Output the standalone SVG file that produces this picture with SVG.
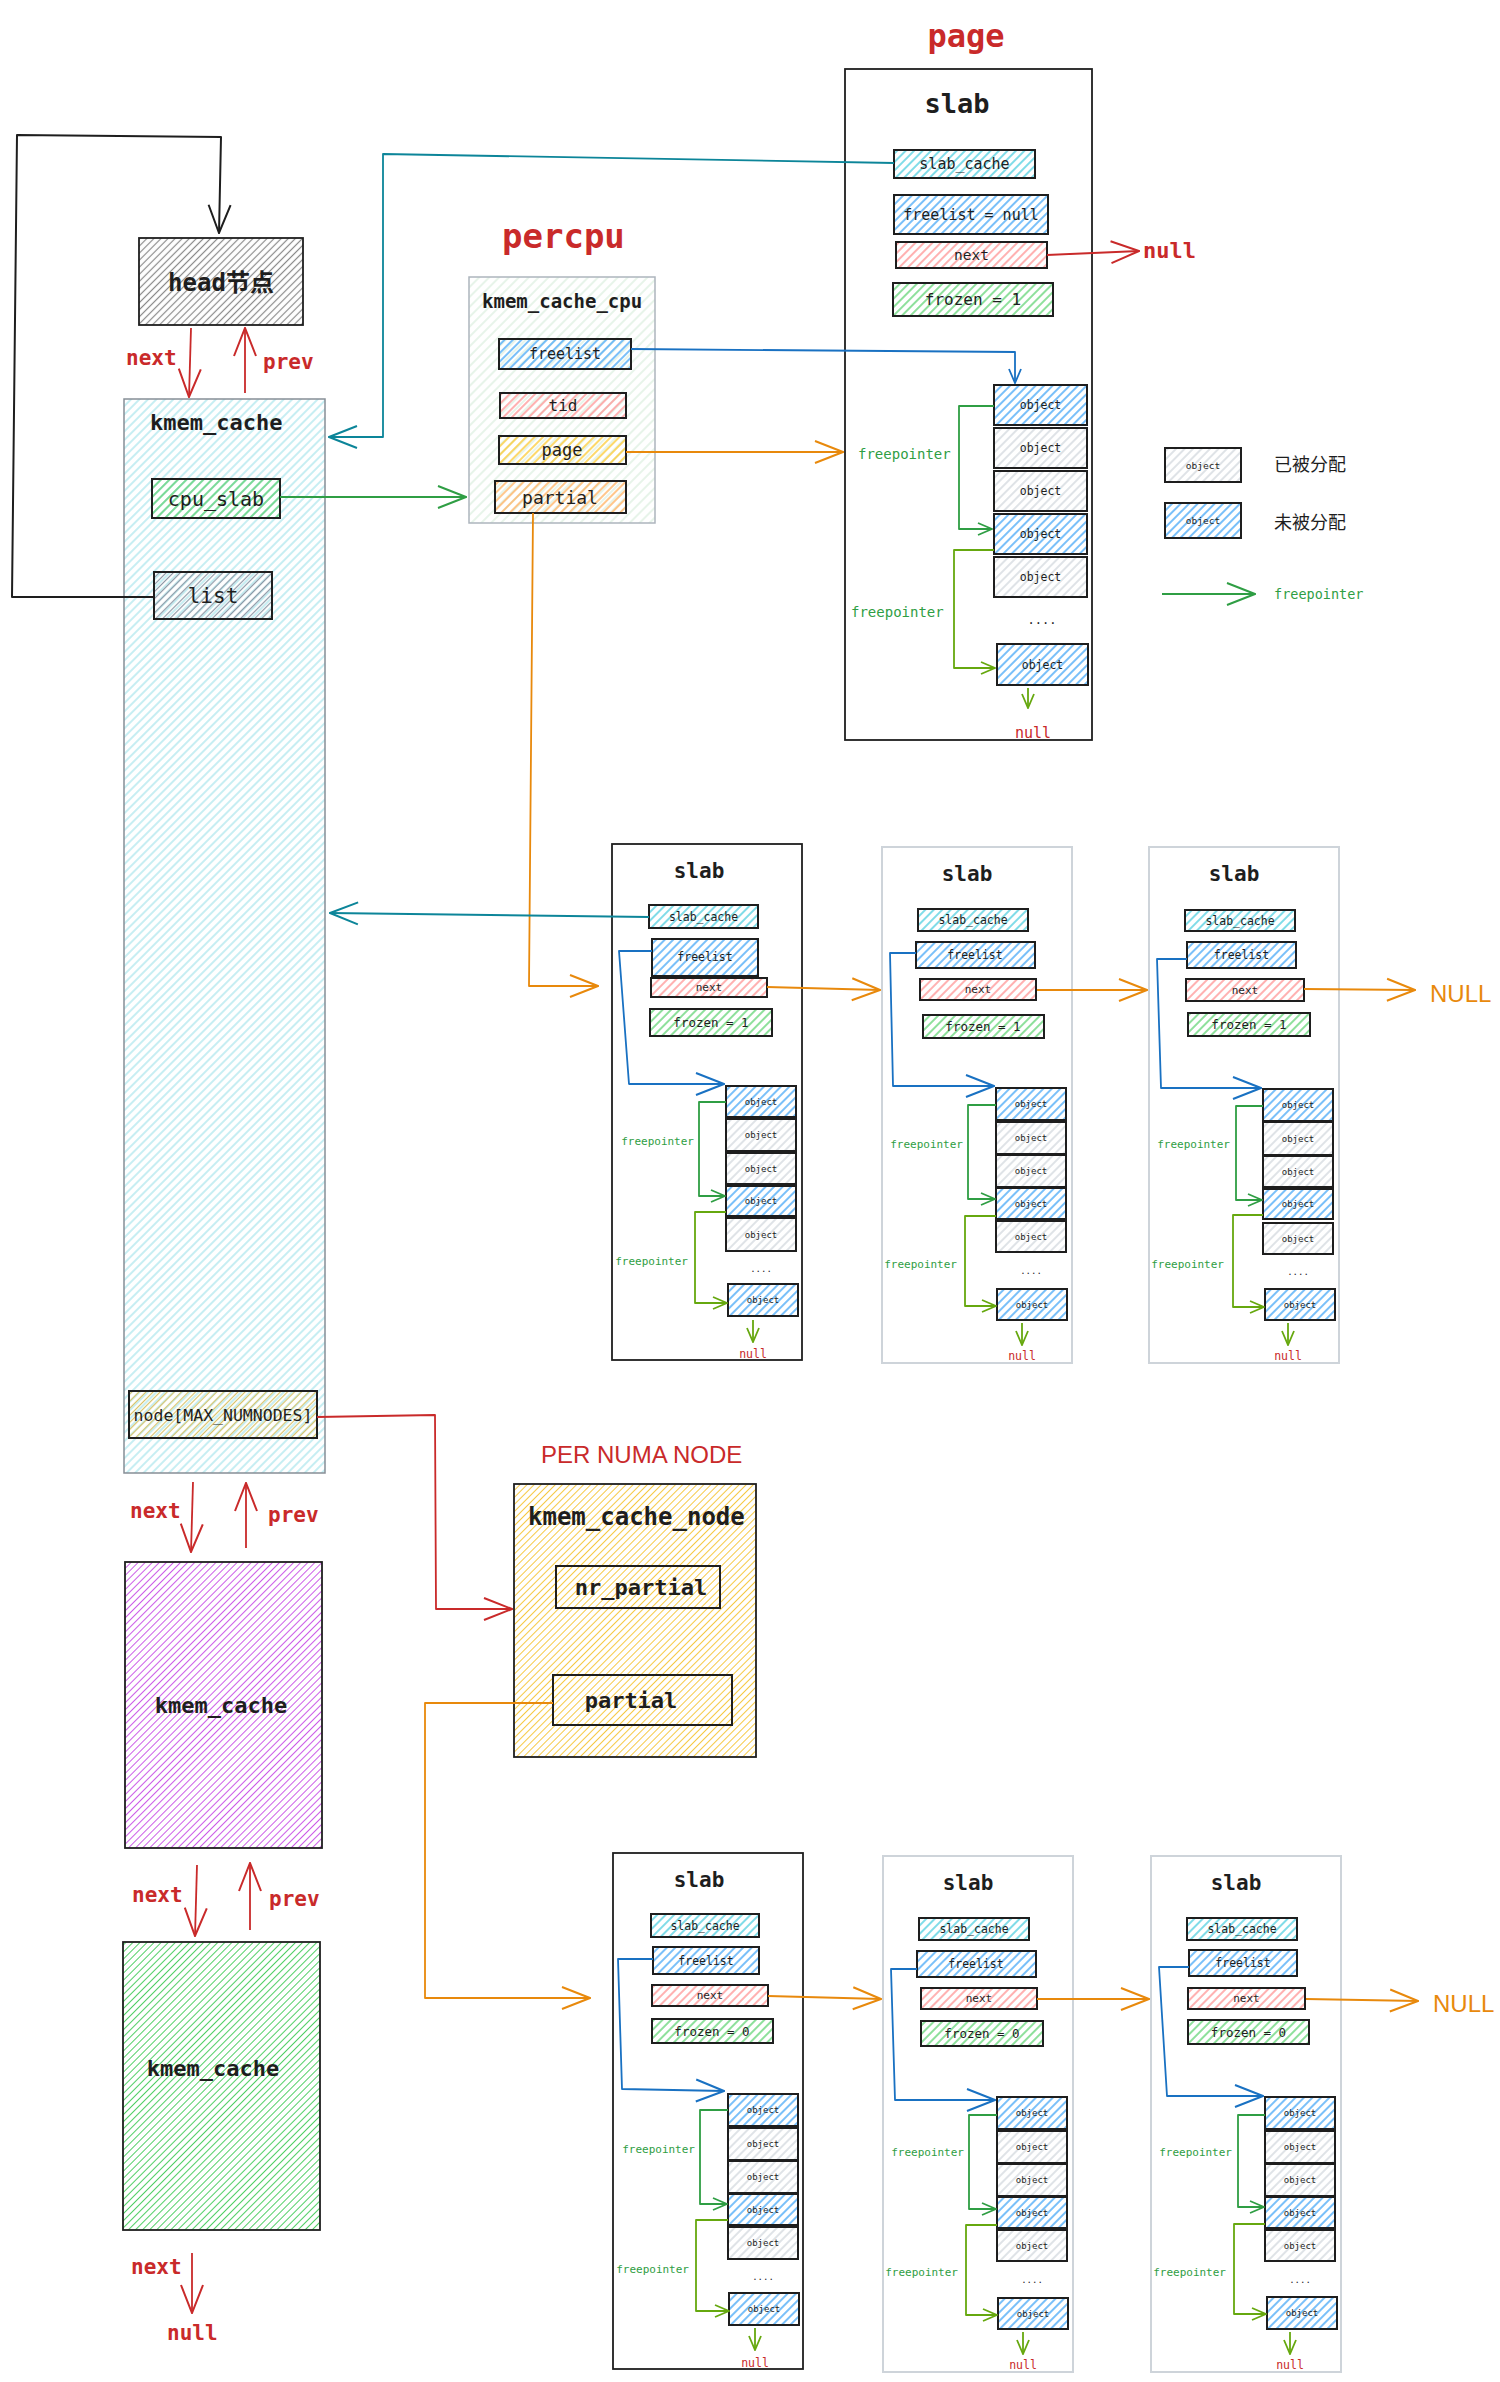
<svg xmlns="http://www.w3.org/2000/svg" width="1500" height="2382" viewBox="0 0 1500 2382">
<defs>
<style>
.mono{font-family:"DejaVu Sans Mono","Liberation Mono","Noto Sans CJK SC",monospace;fill:#1e1e1e}
.sans{font-family:"Liberation Sans","Noto Sans",sans-serif}
.cjk{font-family:"Noto Sans CJK SC",sans-serif;fill:#1e1e1e}
.b{font-weight:bold}
.c{text-anchor:middle;dominant-baseline:central}
.red{fill:#c92a2a}
.org{fill:#e8890c}
.grn{fill:#2f9e44}
.fld{stroke:#1e1e1e;stroke-width:2}
.obj{stroke:#1e1e1e;stroke-width:2}
.blk{stroke:#1e1e1e;stroke-width:1.8}
.slabB{fill:none;stroke:#1e1e1e;stroke-width:1.8}
.slabG{fill:none;stroke:#ced4da;stroke-width:2}
.ln{fill:none;stroke-linejoin:round}
.l-red{stroke:#c92a2a;stroke-width:1.8}
.l-blk{stroke:#1e1e1e;stroke-width:2}
.l-teal{stroke:#0c8599;stroke-width:1.8}
.l-grn{stroke:#2f9e44;stroke-width:1.8}
.l-lg{stroke:#66a80f;stroke-width:1.8}
.l-org{stroke:#e8890c;stroke-width:1.8}
.l-blu{stroke:#1971c2;stroke-width:1.8}
.ft{font-size:11px}
.ob{font-size:9px}
</style>
<pattern id="p-cyan" width="6" height="6" patternUnits="userSpaceOnUse" patternTransform="rotate(45)"><line x1="3" y1="0" x2="3" y2="6" stroke="#8fdde6" stroke-width="1"/></pattern>
<pattern id="p-lgreen" width="7" height="7" patternUnits="userSpaceOnUse" patternTransform="rotate(45)"><line x1="3" y1="0" x2="3" y2="7" stroke="#cfe9d4" stroke-width="1"/></pattern>
<pattern id="p-dgray" width="5" height="5" patternUnits="userSpaceOnUse" patternTransform="rotate(45)"><line x1="2.5" y1="0" x2="2.5" y2="5" stroke="#8a8a8a" stroke-width="1.2"/></pattern>
<pattern id="p-gray" width="6" height="6" patternUnits="userSpaceOnUse" patternTransform="rotate(45)"><line x1="3" y1="0" x2="3" y2="6" stroke="#ced4da" stroke-width="1.3"/></pattern>
<pattern id="p-list" width="5" height="5" patternUnits="userSpaceOnUse" patternTransform="rotate(45)"><line x1="2.5" y1="0" x2="2.5" y2="5" stroke="#8d99a6" stroke-width="1.2"/></pattern>
<pattern id="p-blue" width="6" height="6" patternUnits="userSpaceOnUse" patternTransform="rotate(45)"><line x1="3" y1="0" x2="3" y2="6" stroke="#4dabf7" stroke-width="1.5"/></pattern>
<pattern id="p-red" width="6" height="6" patternUnits="userSpaceOnUse" patternTransform="rotate(45)"><line x1="3" y1="0" x2="3" y2="6" stroke="#ff8787" stroke-width="1.3"/></pattern>
<pattern id="p-green" width="6" height="6" patternUnits="userSpaceOnUse" patternTransform="rotate(45)"><line x1="3" y1="0" x2="3" y2="6" stroke="#51cf66" stroke-width="1.3"/></pattern>
<pattern id="p-teal" width="6" height="6" patternUnits="userSpaceOnUse" patternTransform="rotate(45)"><line x1="3" y1="0" x2="3" y2="6" stroke="#3bc9db" stroke-width="1.3"/></pattern>
<pattern id="p-yellow" width="6" height="6" patternUnits="userSpaceOnUse" patternTransform="rotate(45)"><line x1="3" y1="0" x2="3" y2="6" stroke="#fcc419" stroke-width="1.3"/></pattern>
<pattern id="p-orange" width="6" height="6" patternUnits="userSpaceOnUse" patternTransform="rotate(45)"><line x1="3" y1="0" x2="3" y2="6" stroke="#ffa94d" stroke-width="1.3"/></pattern>
<pattern id="p-purple" width="5" height="5" patternUnits="userSpaceOnUse" patternTransform="rotate(45)"><line x1="2.5" y1="0" x2="2.5" y2="5" stroke="#cc5de8" stroke-width="1"/></pattern>
<pattern id="p-gbox" width="5" height="5" patternUnits="userSpaceOnUse" patternTransform="rotate(45)"><line x1="2.5" y1="0" x2="2.5" y2="5" stroke="#51cf66" stroke-width="1"/></pattern>
<pattern id="p-node" width="5" height="5" patternUnits="userSpaceOnUse" patternTransform="rotate(45)"><line x1="2.5" y1="0" x2="2.5" y2="5" stroke="#f6c945" stroke-width="1"/></pattern>
<pattern id="p-nmax" width="5" height="5" patternUnits="userSpaceOnUse" patternTransform="rotate(45)"><line x1="2.5" y1="0" x2="2.5" y2="5" stroke="#d8c36a" stroke-width="1.2"/></pattern>
<marker id="L-blk" viewBox="0 0 30 26" refX="29" refY="13" markerWidth="30" markerHeight="26" markerUnits="userSpaceOnUse" orient="auto"><path d="M1,2 L29,13 L1,24" fill="none" stroke="#1e1e1e" stroke-width="2"/></marker>
<marker id="L-red" viewBox="0 0 30 26" refX="29" refY="13" markerWidth="30" markerHeight="26" markerUnits="userSpaceOnUse" orient="auto"><path d="M1,2 L29,13 L1,24" fill="none" stroke="#c92a2a" stroke-width="2"/></marker>
<marker id="L-teal" viewBox="0 0 30 26" refX="29" refY="13" markerWidth="30" markerHeight="26" markerUnits="userSpaceOnUse" orient="auto"><path d="M1,2 L29,13 L1,24" fill="none" stroke="#0c8599" stroke-width="2"/></marker>
<marker id="L-grn" viewBox="0 0 30 26" refX="29" refY="13" markerWidth="30" markerHeight="26" markerUnits="userSpaceOnUse" orient="auto"><path d="M1,2 L29,13 L1,24" fill="none" stroke="#2f9e44" stroke-width="2"/></marker>
<marker id="L-org" viewBox="0 0 30 26" refX="29" refY="13" markerWidth="30" markerHeight="26" markerUnits="userSpaceOnUse" orient="auto"><path d="M1,2 L29,13 L1,24" fill="none" stroke="#e8890c" stroke-width="2"/></marker>
<marker id="L-blu" viewBox="0 0 30 26" refX="29" refY="13" markerWidth="30" markerHeight="26" markerUnits="userSpaceOnUse" orient="auto"><path d="M1,2 L29,13 L1,24" fill="none" stroke="#1971c2" stroke-width="2"/></marker>
<marker id="S-grn" viewBox="0 0 16 14" refX="15" refY="7" markerWidth="16" markerHeight="14" markerUnits="userSpaceOnUse" orient="auto"><path d="M1,1 L15,7 L1,13" fill="none" stroke="#2f9e44" stroke-width="1.8"/></marker>
<marker id="S-lg" viewBox="0 0 16 14" refX="15" refY="7" markerWidth="16" markerHeight="14" markerUnits="userSpaceOnUse" orient="auto"><path d="M1,1 L15,7 L1,13" fill="none" stroke="#66a80f" stroke-width="1.8"/></marker>
<marker id="S-blu" viewBox="0 0 16 14" refX="15" refY="7" markerWidth="16" markerHeight="14" markerUnits="userSpaceOnUse" orient="auto"><path d="M1,1 L15,7 L1,13" fill="none" stroke="#1971c2" stroke-width="1.8"/></marker>
</defs>
<rect width="1500" height="2382" fill="#ffffff"/>

<!-- titles -->
<text class="mono red b" x="966" y="47" font-size="32" text-anchor="middle">page</text>
<text class="mono red b" x="502" y="248" font-size="34">percpu</text>
<text class="sans red" x="541" y="1463" font-size="24">PER NUMA NODE</text>

<!-- head node -->
<g id="head">
<rect x="139" y="238" width="164" height="87" fill="url(#p-dgray)" class="blk"/>
<text class="mono c b" x="221" y="283" font-size="24">head节点</text>
</g>

<!-- main kmem_cache -->
<g id="kmem_cache_main">
<rect x="124" y="399" width="201" height="1074" fill="url(#p-cyan)" stroke="#868e96" stroke-width="1.5"/>
<text class="mono b" x="150" y="430" font-size="22">kmem_cache</text>
<rect x="152" y="479" width="128" height="39" fill="url(#p-green)" class="fld"/>
<text class="mono c" x="216" y="498.5" font-size="20">cpu_slab</text>
<rect x="154" y="572" width="118" height="47" fill="url(#p-list)" class="fld"/>
<text class="mono c" x="213" y="595.5" font-size="21">list</text>
<rect x="129" y="1391" width="188" height="47" fill="url(#p-nmax)" class="fld"/>
<text class="mono c" x="223" y="1415" font-size="16.5">node[MAX_NUMNODES]</text>
</g>

<!-- kmem_cache purple -->
<g id="kmem_cache_2">
<rect x="125" y="1562" width="197" height="286" fill="url(#p-purple)" class="blk"/>
<text class="mono c b" x="221" y="1705" font-size="22">kmem_cache</text>
</g>

<!-- kmem_cache green -->
<g id="kmem_cache_3">
<rect x="123" y="1942" width="197" height="288" fill="url(#p-gbox)" class="blk"/>
<text class="mono c b" x="213" y="2068" font-size="22">kmem_cache</text>
</g>

<!-- kmem_cache_cpu -->
<g id="kmem_cache_cpu">
<rect x="469" y="277" width="186" height="246" fill="url(#p-lgreen)" stroke="#adb5bd" stroke-width="1.5"/>
<text class="mono b" x="482" y="308" font-size="19">kmem_cache_cpu</text>
<rect x="499" y="339" width="132" height="30" fill="url(#p-blue)" class="fld"/>
<text class="mono c" x="565" y="354" font-size="15">freelist</text>
<rect x="500" y="393" width="126" height="25" fill="url(#p-red)" class="fld"/>
<text class="mono c" x="563" y="405.5" font-size="16">tid</text>
<rect x="499" y="436" width="127" height="28" fill="url(#p-yellow)" class="fld"/>
<text class="mono c" x="562" y="450" font-size="17">page</text>
<rect x="495" y="481" width="131" height="32" fill="url(#p-orange)" class="fld"/>
<text class="mono c" x="560" y="497" font-size="18">partial</text>
</g>

<!-- page slab -->
<g id="slab_page">
<rect x="845" y="69" width="247" height="671" class="slabB"/>
<text class="mono b" x="957" y="113" font-size="27" text-anchor="middle">slab</text>
<rect x="894" y="150" width="141" height="28" fill="url(#p-teal)" class="fld"/>
<text class="mono c" x="964.5" y="164" font-size="15">slab_cache</text>
<rect x="894" y="195" width="154" height="39" fill="url(#p-blue)" class="fld"/>
<text class="mono c" x="971" y="214.5" font-size="15">freelist = null</text>
<rect x="896" y="242" width="151" height="26" fill="url(#p-red)" class="fld"/>
<text class="mono c" x="971.5" y="255" font-size="14.5">next</text>
<rect x="893" y="283" width="160" height="33" fill="url(#p-green)" class="fld"/>
<text class="mono c" x="973" y="299.5" font-size="16">frozen = 1</text>
<rect x="994" y="385" width="93" height="40" fill="url(#p-blue)" class="obj"/>
<text class="mono c" x="1040.5" y="405" font-size="11.5">object</text>
<rect x="994" y="428" width="93" height="40" fill="url(#p-gray)" class="obj"/>
<text class="mono c" x="1040.5" y="448" font-size="11.5">object</text>
<rect x="994" y="471" width="93" height="40" fill="url(#p-gray)" class="obj"/>
<text class="mono c" x="1040.5" y="491" font-size="11.5">object</text>
<rect x="994" y="514" width="93" height="40" fill="url(#p-blue)" class="obj"/>
<text class="mono c" x="1040.5" y="534" font-size="11.5">object</text>
<rect x="994" y="557" width="93" height="40" fill="url(#p-gray)" class="obj"/>
<text class="mono c" x="1040.5" y="577" font-size="11.5">object</text>
<text class="mono c" x="1042" y="620" font-size="12">....</text>
<rect x="997" y="644" width="91" height="41" fill="url(#p-blue)" class="obj"/>
<text class="mono c" x="1042.5" y="664.5" font-size="11.5">object</text>
<text class="mono grn" x="858" y="459" font-size="14">freepointer</text>
<text class="mono grn" x="851" y="617" font-size="14">freepointer</text>
<text class="mono red" x="1033" y="738" font-size="15" text-anchor="middle">null</text>
</g>

<!-- legend -->
<g id="legend">
<rect x="1165" y="448" width="76" height="34" fill="url(#p-gray)" class="obj"/>
<text class="mono c" x="1203" y="465" font-size="9.5">object</text>
<text class="cjk" x="1274" y="463" font-size="18" dominant-baseline="central">已被分配</text>
<rect x="1165" y="503" width="76" height="35" fill="url(#p-blue)" class="obj"/>
<text class="mono c" x="1203" y="520.5" font-size="9.5">object</text>
<text class="cjk" x="1274" y="521" font-size="18" dominant-baseline="central">未被分配</text>
<text class="mono grn" x="1274" y="594" font-size="13.5" dominant-baseline="central">freepointer</text>
</g>

<!-- kmem_cache_node -->
<g id="kmem_cache_node">
<rect x="514" y="1484" width="242" height="273" fill="url(#p-node)" class="blk"/>
<text class="mono b" x="528" y="1525" font-size="24">kmem_cache_node</text>
<rect x="556" y="1566" width="164" height="42" fill="none" class="fld"/>
<text class="mono c b" x="641" y="1587" font-size="22">nr_partial</text>
<rect x="553" y="1675" width="179" height="50" fill="none" class="fld"/>
<text class="mono c b" x="631" y="1700" font-size="22">partial</text>
</g>

<!-- middle row slabs -->
<g id="slab_m1" transform="translate(612,844)">
<rect x="0" y="0" width="190" height="516" class="slabB"/>
<text class="mono b" x="87" y="34" font-size="21" text-anchor="middle">slab</text>
<rect x="37" y="61" width="109" height="23" fill="url(#p-teal)" class="fld"/><text class="mono c" x="91.5" y="73" font-size="11.5">slab_cache</text>
<rect x="40" y="95" width="106" height="37" fill="url(#p-blue)" class="fld"/><text class="mono c" x="93" y="113" font-size="11.5">freelist</text>
<rect x="39" y="134" width="116" height="19" fill="url(#p-red)" class="fld"/><text class="mono c" x="97" y="143.5" font-size="11">next</text>
<rect x="38" y="165" width="122" height="27" fill="url(#p-green)" class="fld"/><text class="mono c" x="99" y="178.5" font-size="12.5">frozen = 1</text>
<rect x="114" y="242" width="70" height="31" fill="url(#p-blue)" class="obj"/><text class="mono c ob" x="149" y="257.5">object</text>
<rect x="114" y="275" width="70" height="32" fill="url(#p-gray)" class="obj"/><text class="mono c ob" x="149" y="291">object</text>
<rect x="114" y="309" width="70" height="31" fill="url(#p-gray)" class="obj"/><text class="mono c ob" x="149" y="324.5">object</text>
<rect x="114" y="342" width="70" height="30" fill="url(#p-blue)" class="obj"/><text class="mono c ob" x="149" y="357">object</text>
<rect x="114" y="374" width="70" height="33" fill="url(#p-gray)" class="obj"/><text class="mono c ob" x="149" y="390.5">object</text>
<text class="mono c ob" x="149" y="425">....</text>
<rect x="116" y="440" width="70" height="32" fill="url(#p-blue)" class="obj"/><text class="mono c ob" x="151" y="456">object</text>
<text class="mono grn ft" x="82" y="301" text-anchor="end">freepointer</text>
<text class="mono grn ft" x="76" y="421" text-anchor="end">freepointer</text>
<text class="mono red" x="141" y="514" font-size="11.5" text-anchor="middle">null</text>
</g>
<g id="slab_m2" transform="translate(882,847)">
<rect x="0" y="0" width="190" height="516" class="slabG"/>
<text class="mono b" x="85" y="34" font-size="21" text-anchor="middle">slab</text>
<rect x="36" y="62" width="110" height="22" fill="url(#p-teal)" class="fld"/><text class="mono c" x="91" y="73" font-size="11.5">slab_cache</text>
<rect x="34" y="95" width="119" height="26" fill="url(#p-blue)" class="fld"/><text class="mono c" x="93" y="108" font-size="11.5">freelist</text>
<rect x="38" y="132" width="116" height="21" fill="url(#p-red)" class="fld"/><text class="mono c" x="96" y="142.5" font-size="11">next</text>
<rect x="41" y="168" width="121" height="23" fill="url(#p-green)" class="fld"/><text class="mono c" x="101" y="179.5" font-size="12.5">frozen = 1</text>
<rect x="114" y="241" width="70" height="32" fill="url(#p-blue)" class="obj"/><text class="mono c ob" x="149" y="257">object</text>
<rect x="114" y="275" width="70" height="32" fill="url(#p-gray)" class="obj"/><text class="mono c ob" x="149" y="291">object</text>
<rect x="114" y="308" width="70" height="32" fill="url(#p-gray)" class="obj"/><text class="mono c ob" x="149" y="324">object</text>
<rect x="114" y="341" width="70" height="31" fill="url(#p-blue)" class="obj"/><text class="mono c ob" x="149" y="356.5">object</text>
<rect x="114" y="374" width="70" height="31" fill="url(#p-gray)" class="obj"/><text class="mono c ob" x="149" y="389.5">object</text>
<text class="mono c ob" x="149" y="424">....</text>
<rect x="115" y="442" width="70" height="31" fill="url(#p-blue)" class="obj"/><text class="mono c ob" x="150" y="457.5">object</text>
<text class="mono grn ft" x="81" y="301" text-anchor="end">freepointer</text>
<text class="mono grn ft" x="75" y="421" text-anchor="end">freepointer</text>
<text class="mono red" x="140" y="513" font-size="11.5" text-anchor="middle">null</text>
</g>
<g id="slab_m3" transform="translate(1149,847)">
<rect x="0" y="0" width="190" height="516" class="slabG"/>
<text class="mono b" x="85" y="34" font-size="21" text-anchor="middle">slab</text>
<rect x="36" y="63" width="110" height="21" fill="url(#p-teal)" class="fld"/><text class="mono c" x="91" y="73.5" font-size="11.5">slab_cache</text>
<rect x="38" y="95" width="109" height="26" fill="url(#p-blue)" class="fld"/><text class="mono c" x="92.5" y="108" font-size="11.5">freelist</text>
<rect x="37" y="132" width="118" height="22" fill="url(#p-red)" class="fld"/><text class="mono c" x="96" y="143" font-size="11">next</text>
<rect x="39" y="166" width="122" height="23" fill="url(#p-green)" class="fld"/><text class="mono c" x="100" y="177.5" font-size="12.5">frozen = 1</text>
<rect x="114" y="242" width="70" height="32" fill="url(#p-blue)" class="obj"/><text class="mono c ob" x="149" y="258">object</text>
<rect x="114" y="275" width="70" height="33" fill="url(#p-gray)" class="obj"/><text class="mono c ob" x="149" y="291.5">object</text>
<rect x="114" y="309" width="70" height="31" fill="url(#p-gray)" class="obj"/><text class="mono c ob" x="149" y="324.5">object</text>
<rect x="114" y="342" width="70" height="30" fill="url(#p-blue)" class="obj"/><text class="mono c ob" x="149" y="357">object</text>
<rect x="114" y="376" width="70" height="31" fill="url(#p-gray)" class="obj"/><text class="mono c ob" x="149" y="391.5">object</text>
<text class="mono c ob" x="149" y="425">....</text>
<rect x="116" y="442" width="70" height="31" fill="url(#p-blue)" class="obj"/><text class="mono c ob" x="151" y="457.5">object</text>
<text class="mono grn ft" x="81" y="301" text-anchor="end">freepointer</text>
<text class="mono grn ft" x="75" y="421" text-anchor="end">freepointer</text>
<text class="mono red" x="139" y="513" font-size="11.5" text-anchor="middle">null</text>
</g>

<!-- bottom row slabs -->
<g id="slab_b1" transform="translate(613,1853)">
<rect x="0" y="0" width="190" height="516" class="slabB"/>
<text class="mono b" x="86" y="34" font-size="21" text-anchor="middle">slab</text>
<rect x="38" y="61" width="108" height="23" fill="url(#p-teal)" class="fld"/><text class="mono c" x="92" y="73" font-size="11.5">slab_cache</text>
<rect x="40" y="94" width="106" height="27" fill="url(#p-blue)" class="fld"/><text class="mono c" x="93" y="108" font-size="11.5">freelist</text>
<rect x="39" y="132" width="116" height="21" fill="url(#p-red)" class="fld"/><text class="mono c" x="97" y="142.5" font-size="11">next</text>
<rect x="39" y="166" width="121" height="24" fill="url(#p-green)" class="fld"/><text class="mono c" x="99" y="178" font-size="12.5">frozen = 0</text>
<rect x="115" y="241" width="70" height="32" fill="url(#p-blue)" class="obj"/><text class="mono c ob" x="150" y="257">object</text>
<rect x="115" y="275" width="70" height="32" fill="url(#p-gray)" class="obj"/><text class="mono c ob" x="150" y="291">object</text>
<rect x="115" y="308" width="70" height="32" fill="url(#p-gray)" class="obj"/><text class="mono c ob" x="150" y="324">object</text>
<rect x="115" y="341" width="70" height="31" fill="url(#p-blue)" class="obj"/><text class="mono c ob" x="150" y="356.5">object</text>
<rect x="115" y="374" width="70" height="32" fill="url(#p-gray)" class="obj"/><text class="mono c ob" x="150" y="390">object</text>
<text class="mono c ob" x="150" y="424">....</text>
<rect x="116" y="440" width="70" height="32" fill="url(#p-blue)" class="obj"/><text class="mono c ob" x="151" y="456">object</text>
<text class="mono grn ft" x="82" y="300" text-anchor="end">freepointer</text>
<text class="mono grn ft" x="76" y="420" text-anchor="end">freepointer</text>
<text class="mono red" x="142" y="514" font-size="11.5" text-anchor="middle">null</text>
</g>
<g id="slab_b2" transform="translate(883,1856)">
<rect x="0" y="0" width="190" height="516" class="slabG"/>
<text class="mono b" x="85" y="34" font-size="21" text-anchor="middle">slab</text>
<rect x="36" y="62" width="110" height="22" fill="url(#p-teal)" class="fld"/><text class="mono c" x="91" y="73" font-size="11.5">slab_cache</text>
<rect x="34" y="95" width="119" height="26" fill="url(#p-blue)" class="fld"/><text class="mono c" x="93" y="108" font-size="11.5">freelist</text>
<rect x="38" y="132" width="116" height="21" fill="url(#p-red)" class="fld"/><text class="mono c" x="96" y="142.5" font-size="11">next</text>
<rect x="38" y="165" width="122" height="25" fill="url(#p-green)" class="fld"/><text class="mono c" x="99" y="177.5" font-size="12.5">frozen = 0</text>
<rect x="114" y="241" width="70" height="32" fill="url(#p-blue)" class="obj"/><text class="mono c ob" x="149" y="257">object</text>
<rect x="114" y="275" width="70" height="32" fill="url(#p-gray)" class="obj"/><text class="mono c ob" x="149" y="291">object</text>
<rect x="114" y="308" width="70" height="32" fill="url(#p-gray)" class="obj"/><text class="mono c ob" x="149" y="324">object</text>
<rect x="114" y="341" width="70" height="31" fill="url(#p-blue)" class="obj"/><text class="mono c ob" x="149" y="356.5">object</text>
<rect x="114" y="374" width="70" height="31" fill="url(#p-gray)" class="obj"/><text class="mono c ob" x="149" y="389.5">object</text>
<text class="mono c ob" x="149" y="424">....</text>
<rect x="115" y="442" width="70" height="31" fill="url(#p-blue)" class="obj"/><text class="mono c ob" x="150" y="457.5">object</text>
<text class="mono grn ft" x="81" y="300" text-anchor="end">freepointer</text>
<text class="mono grn ft" x="75" y="420" text-anchor="end">freepointer</text>
<text class="mono red" x="140" y="513" font-size="11.5" text-anchor="middle">null</text>
</g>
<g id="slab_b3" transform="translate(1151,1856)">
<rect x="0" y="0" width="190" height="516" class="slabG"/>
<text class="mono b" x="85" y="34" font-size="21" text-anchor="middle">slab</text>
<rect x="36" y="62" width="110" height="22" fill="url(#p-teal)" class="fld"/><text class="mono c" x="91" y="73" font-size="11.5">slab_cache</text>
<rect x="38" y="94" width="108" height="26" fill="url(#p-blue)" class="fld"/><text class="mono c" x="92" y="107" font-size="11.5">freelist</text>
<rect x="37" y="132" width="117" height="21" fill="url(#p-red)" class="fld"/><text class="mono c" x="95.5" y="142.5" font-size="11">next</text>
<rect x="37" y="164" width="121" height="24" fill="url(#p-green)" class="fld"/><text class="mono c" x="97.5" y="176" font-size="12.5">frozen = 0</text>
<rect x="114" y="241" width="70" height="32" fill="url(#p-blue)" class="obj"/><text class="mono c ob" x="149" y="257">object</text>
<rect x="114" y="275" width="70" height="32" fill="url(#p-gray)" class="obj"/><text class="mono c ob" x="149" y="291">object</text>
<rect x="114" y="308" width="70" height="32" fill="url(#p-gray)" class="obj"/><text class="mono c ob" x="149" y="324">object</text>
<rect x="114" y="341" width="70" height="31" fill="url(#p-blue)" class="obj"/><text class="mono c ob" x="149" y="356.5">object</text>
<rect x="114" y="374" width="70" height="31" fill="url(#p-gray)" class="obj"/><text class="mono c ob" x="149" y="389.5">object</text>
<text class="mono c ob" x="149" y="424">....</text>
<rect x="116" y="441" width="70" height="32" fill="url(#p-blue)" class="obj"/><text class="mono c ob" x="151" y="457">object</text>
<text class="mono grn ft" x="81" y="300" text-anchor="end">freepointer</text>
<text class="mono grn ft" x="75" y="420" text-anchor="end">freepointer</text>
<text class="mono red" x="139" y="513" font-size="11.5" text-anchor="middle">null</text>
</g>

<!-- NULL labels and link labels -->
<g id="labels">
<text class="sans org" x="1430" y="1002" font-size="24">NULL</text>
<text class="sans org" x="1433" y="2012" font-size="24">NULL</text>
<text class="mono red b" x="1143" y="258" font-size="22">null</text>
<text class="mono red b" x="126" y="365" font-size="21">next</text>
<text class="mono red b" x="263" y="369" font-size="21">prev</text>
<text class="mono red b" x="130" y="1518" font-size="21">next</text>
<text class="mono red b" x="268" y="1522" font-size="21">prev</text>
<text class="mono red b" x="132" y="1902" font-size="21">next</text>
<text class="mono red b" x="269" y="1906" font-size="21">prev</text>
<text class="mono red b" x="131" y="2274" font-size="21">next</text>
<text class="mono red b" x="167" y="2340" font-size="21">null</text>
</g>

<!-- connectors -->
<g id="connectors" class="ln">
<path class="l-blk" d="M154,597 L12,597 L17,135 L221,137 L219,233" marker-end="url(#L-blk)"/>
<path class="l-red" d="M191,328 L189,397" marker-end="url(#L-red)"/>
<path class="l-red" d="M245,393 L245,328" marker-end="url(#L-red)"/>
<path class="l-red" d="M193,1482 L191,1552" marker-end="url(#L-red)"/>
<path class="l-red" d="M246,1548 L246,1483" marker-end="url(#L-red)"/>
<path class="l-red" d="M197,1865 L195,1936" marker-end="url(#L-red)"/>
<path class="l-red" d="M250,1930 L250,1863" marker-end="url(#L-red)"/>
<path class="l-red" d="M192,2253 L192,2313" marker-end="url(#L-red)"/>
<path class="l-teal" d="M894,163 L383,154 L383,437 L329,437" marker-end="url(#L-teal)"/>
<path class="l-grn" d="M280,497 L466,497" marker-end="url(#L-grn)"/>
<path class="l-blu" d="M631,349 L1015,352 L1015,383" marker-end="url(#S-blu)"/>
<path class="l-org" d="M626,452 L843,452" marker-end="url(#L-org)"/>
<path class="l-red" d="M1047,255 L1139,251" marker-end="url(#L-red)"/>
<path class="l-grn" d="M994,406 L959,406 L959,529 L992,529" marker-end="url(#S-grn)"/>
<path class="l-lg" d="M994,550 L954,550 L954,668 L995,668" marker-end="url(#S-lg)"/>
<path class="l-lg" d="M1028,688 L1028,708" marker-end="url(#S-lg)"/>
<path class="l-grn" d="M1162,594 L1255,594" marker-end="url(#L-grn)"/>
<path class="l-org" d="M533,513 L529,986 L598,986" marker-end="url(#L-org)"/>
<path class="l-teal" d="M649,917 L330,913" marker-end="url(#L-teal)"/>
<path class="l-org" d="M767,987 L880,990" marker-end="url(#L-org)"/>
<path class="l-org" d="M1037,990 L1147,990" marker-end="url(#L-org)"/>
<path class="l-org" d="M1304,989 L1415,990" marker-end="url(#L-org)"/>
<path class="l-red" d="M317,1417 L435,1415 L436,1609 L512,1609" marker-end="url(#L-red)"/>
<path class="l-org" d="M553,1703 L425,1703 L425,1998 L590,1998" marker-end="url(#L-org)"/>
<path class="l-org" d="M768,1996 L881,1999" marker-end="url(#L-org)"/>
<path class="l-org" d="M1037,1999 L1149,1999" marker-end="url(#L-org)"/>
<path class="l-org" d="M1306,1999 L1418,2001" marker-end="url(#L-org)"/>
<g transform="translate(612,844)">
<path class="l-blu" d="M40,107 L7,107 L17,240 L112,240" marker-end="url(#L-blu)"/>
<path class="l-grn" d="M114,258 L87,258 L87,352 L113,352" marker-end="url(#S-grn)"/>
<path class="l-lg" d="M114,368 L83,368 L83,459 L115,459" marker-end="url(#S-lg)"/>
<path class="l-lg" d="M141,476 L141,498" marker-end="url(#S-lg)"/>
</g>
<g transform="translate(882,847)">
<path class="l-blu" d="M34,106 L8,106 L11,239 L112,239" marker-end="url(#L-blu)"/>
<path class="l-grn" d="M114,258 L86,258 L86,352 L113,352" marker-end="url(#S-grn)"/>
<path class="l-lg" d="M114,369 L83,369 L83,459 L114,459" marker-end="url(#S-lg)"/>
<path class="l-lg" d="M140,476 L140,498" marker-end="url(#S-lg)"/>
</g>
<g transform="translate(1149,847)">
<path class="l-blu" d="M38,112 L8,112 L12,241 L112,241" marker-end="url(#L-blu)"/>
<path class="l-grn" d="M114,259 L87,259 L87,353 L113,353" marker-end="url(#S-grn)"/>
<path class="l-lg" d="M114,368 L84,368 L84,460 L115,460" marker-end="url(#S-lg)"/>
<path class="l-lg" d="M139,476 L139,498" marker-end="url(#S-lg)"/>
</g>
<g transform="translate(613,1853)">
<path class="l-blu" d="M40,106 L5,106 L9,236 L111,238" marker-end="url(#L-blu)"/>
<path class="l-grn" d="M115,257 L87,257 L87,351 L114,351" marker-end="url(#S-grn)"/>
<path class="l-lg" d="M115,367 L83,367 L83,458 L116,458" marker-end="url(#S-lg)"/>
<path class="l-lg" d="M142,475 L142,497" marker-end="url(#S-lg)"/>
</g>
<g transform="translate(883,1856)">
<path class="l-blu" d="M34,113 L8,113 L12,244 L112,244" marker-end="url(#L-blu)"/>
<path class="l-grn" d="M114,259 L86,259 L86,353 L113,353" marker-end="url(#S-grn)"/>
<path class="l-lg" d="M114,369 L83,369 L83,459 L114,459" marker-end="url(#S-lg)"/>
<path class="l-lg" d="M140,476 L140,498" marker-end="url(#S-lg)"/>
</g>
<g transform="translate(1151,1856)">
<path class="l-blu" d="M38,111 L8,111 L16,240 L112,240" marker-end="url(#L-blu)"/>
<path class="l-grn" d="M114,259 L87,259 L87,351 L113,351" marker-end="url(#S-grn)"/>
<path class="l-lg" d="M114,368 L83,368 L83,458 L115,458" marker-end="url(#S-lg)"/>
<path class="l-lg" d="M139,476 L139,498" marker-end="url(#S-lg)"/>
</g>
</g>
</svg>
